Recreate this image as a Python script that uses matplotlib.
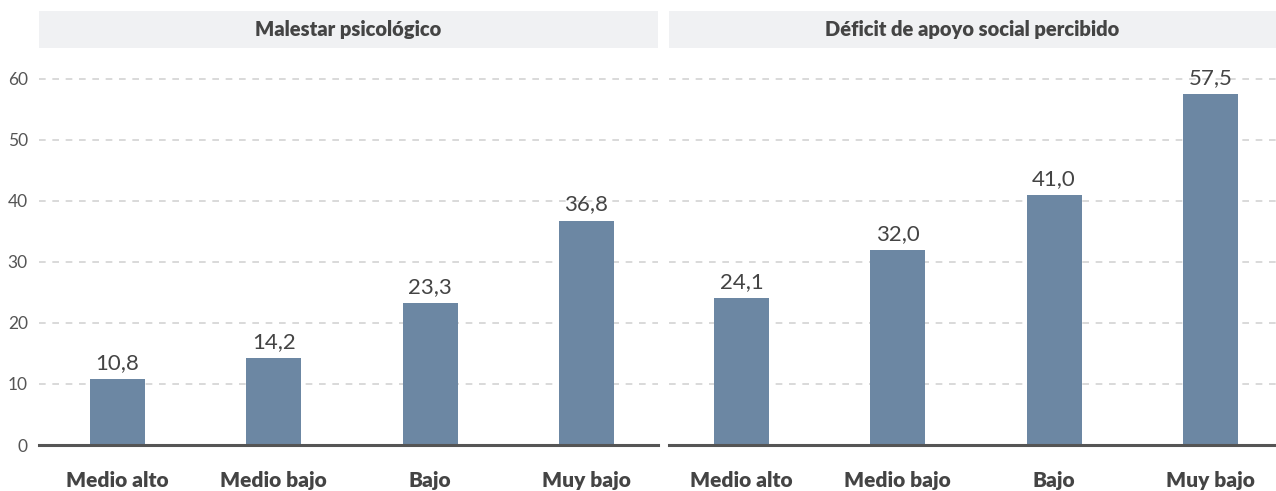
import numpy as np
import matplotlib.pyplot as plt
from matplotlib.patches import Rectangle

plt.rcParams['font.family'] = ['Lato', 'DejaVu Sans']

# datos
categorias = ['Medio alto', 'Medio bajo', 'Bajo', 'Muy bajo']
titulos = ['Malestar psicológico', 'Déficit de apoyo social percibido']
malestar = [10.8, 14.2, 23.3, 36.8]
deficit = [24.1, 32.0, 41.0, 57.5]
series = [malestar, deficit]
yticks = [0, 10, 20, 30, 40, 50, 60]

W, H = 1276, 491
fig = plt.figure(figsize=(W / 100, H / 100), dpi=100)

color_barra = '#6c87a3'
color_texto = '#444444'

# posiciones en pixeles: (izq, der, xlim)
paneles = [(39, 658, (-0.502, 3.458)), (669, 1276, (-0.464, 3.42))]
y_base, y_top = 445, 60
ymax = (y_base - y_top) / 6.1

for i, (x0, x1, xl) in enumerate(paneles):
    ax = fig.add_axes([x0 / W, 1 - y_base / H, (x1 - x0) / W, (y_base - y_top) / H])
    x = np.arange(len(categorias))
    bars = ax.bar(x, series[i], width=0.352, color=color_barra, zorder=3)
    ax.set_xlim(*xl)
    ax.set_ylim(0, ymax)
    ax.set_yticks(yticks)
    ax.yaxis.grid(True, linestyle=(0, (4, 4)), color='#d3d3d3', linewidth=1.2, zorder=0)
    ax.set_axisbelow(True)
    for s in ['top', 'right', 'left']:
        ax.spines[s].set_visible(False)
    ax.spines['bottom'].set_color('#555555')
    ax.spines['bottom'].set_linewidth(2.2)
    ax.spines['bottom'].set_zorder(4)
    ax.tick_params(axis='both', length=0)
    ax.set_xticks(x)
    ax.set_xticklabels(categorias, fontsize=15, fontweight='heavy', color=color_texto)
    ax.tick_params(axis='x', pad=19)
    if i == 0:
        ax.set_yticklabels([str(t) for t in yticks], fontsize=12.5, color='#555555')
        ax.tick_params(axis='y', pad=8)
    else:
        ax.set_yticklabels([])
    for b, v in zip(bars, series[i]):
        ax.text(b.get_x() + b.get_width() / 2, v + 1.0, f'{v:.1f}'.replace('.', ','),
                ha='center', va='bottom', fontsize=16, color=color_texto, zorder=5)

    # franja del titulo
    fig.patches.append(Rectangle((x0 / W, 1 - 47.5 / H), (x1 - x0) / W, 36.5 / H,
                                 transform=fig.transFigure, facecolor='#f0f1f3',
                                 edgecolor='none', zorder=0))
    fig.text((x0 + x1) / 2 / W, 1 - 29.5 / H, titulos[i], ha='center', va='center',
             fontsize=14.5, fontweight='heavy', color=color_texto)

fig.savefig('out.png', dpi=100)
